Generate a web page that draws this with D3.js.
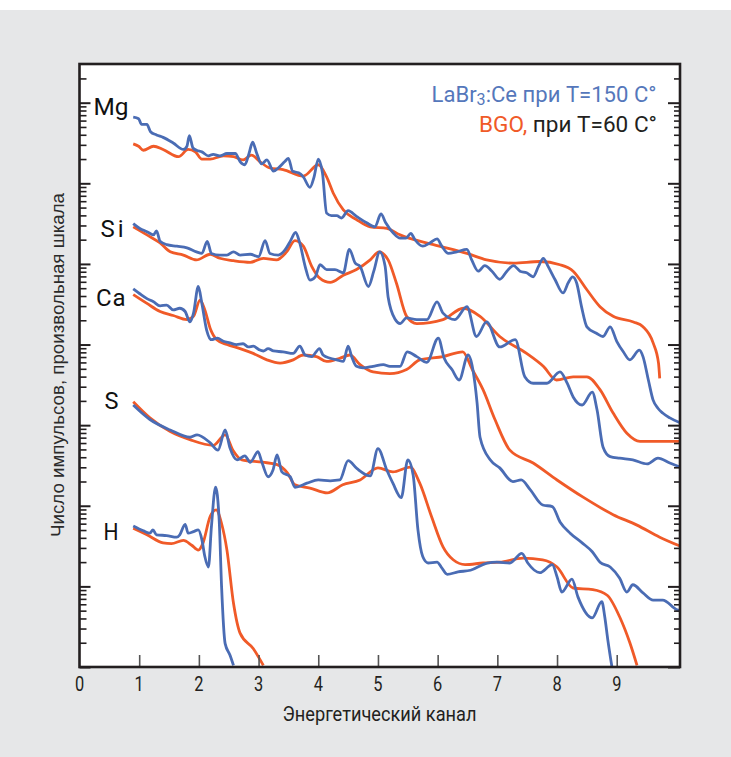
<!DOCTYPE html>
<html>
<head>
<meta charset="utf-8">
<script src="https://cdn.jsdelivr.net/npm/d3@7"></script>
<style>
  html, body { margin:0; padding:0; background:#e6e7e8; }
  svg { display:block; }
  text { font-family: Roboto, "Liberation Sans", sans-serif; }
</style>
</head>
<body>
<svg id="drawing_region"></svg>
<script>
// [channel, log10(count)]
const mgLaBr = [[0.90,6.82],[0.99,6.80],[1.04,6.73],[1.13,6.73],[1.19,6.64],[1.29,6.60],[1.40,6.57],[1.57,6.50],[1.74,6.42],[1.80,6.46],[1.84,6.59],[1.90,6.44],[1.96,6.41],[2.05,6.39],[2.16,6.34],[2.24,6.36],[2.35,6.34],[2.47,6.37],[2.61,6.37],[2.69,6.27],[2.77,6.23],[2.84,6.37],[2.90,6.51],[2.97,6.37],[3.05,6.24],[3.14,6.29],[3.25,6.15],[3.33,6.19],[3.44,6.27],[3.50,6.31],[3.57,6.15],[3.67,6.13],[3.75,6.08],[3.86,5.95],[3.93,6.08],[4.00,6.30],[4.07,6.13],[4.14,5.63],[4.22,5.60],[4.31,5.60],[4.39,5.57],[4.50,5.66],[4.64,5.59],[4.81,5.51],[4.95,5.46],[5.05,5.62],[5.13,5.51],[5.26,5.38],[5.37,5.32],[5.47,5.32],[5.55,5.38],[5.62,5.30],[5.75,5.22],[5.87,5.26],[5.99,5.31],[6.07,5.22],[6.18,5.13],[6.32,5.15],[6.49,5.18],[6.57,5.05],[6.68,4.91],[6.79,4.98],[6.91,4.91],[7.04,4.81],[7.16,4.91],[7.27,4.98],[7.38,4.91],[7.49,4.89],[7.60,4.84],[7.69,4.97],[7.77,5.07],[7.85,4.97],[7.97,4.80],[8.10,4.64],[8.19,4.77],[8.26,4.84],[8.33,4.76],[8.41,4.47],[8.50,4.22],[8.66,4.14],[8.77,4.10],[8.89,4.22],[9.00,4.04],[9.11,3.91],[9.22,3.81],[9.38,3.93],[9.44,3.85],[9.53,3.56],[9.61,3.31],[9.69,3.21],[9.77,3.15],[9.89,3.09],[10.06,3.03]];
const mgBGO = [[0.90,6.49],[0.99,6.46],[1.07,6.41],[1.24,6.46],[1.40,6.42],[1.66,6.33],[1.82,6.42],[1.94,6.39],[2.05,6.30],[2.19,6.30],[2.41,6.34],[2.58,6.33],[2.74,6.29],[2.88,6.35],[3.02,6.27],[3.19,6.19],[3.41,6.17],[3.75,6.09],[4.00,6.23],[4.14,6.08],[4.25,5.88],[4.42,5.67],[4.64,5.55],[4.87,5.46],[5.15,5.44],[5.37,5.36],[5.93,5.24],[6.49,5.13],[6.82,5.05],[7.27,5.01],[7.71,5.03],[8.05,4.99],[8.27,4.91],[8.50,4.68],[8.72,4.47],[8.94,4.35],[9.28,4.28],[9.44,4.22],[9.61,4.02],[9.70,3.77],[9.72,3.58]];

const siLaBr = [[0.90,5.50],[1.01,5.44],[1.13,5.40],[1.24,5.36],[1.29,5.41],[1.35,5.28],[1.46,5.24],[1.63,5.22],[1.80,5.20],[1.96,5.15],[2.05,5.13],[2.14,5.28],[2.21,5.13],[2.35,5.11],[2.47,5.11],[2.58,5.15],[2.69,5.11],[2.86,5.12],[3.00,5.09],[3.11,5.29],[3.19,5.13],[3.33,5.11],[3.44,5.17],[3.53,5.28],[3.62,5.39],[3.69,5.26],[3.78,4.97],[3.86,4.80],[3.95,4.84],[4.03,4.99],[4.14,4.93],[4.28,4.93],[4.42,4.89],[4.52,5.18],[4.62,5.01],[4.70,4.97],[4.84,4.72],[4.93,4.91],[5.03,5.15],[5.12,4.97],[5.17,4.59],[5.29,4.31],[5.37,4.26],[5.48,4.33],[5.65,4.31],[5.82,4.31],[5.99,4.53],[6.09,4.39],[6.29,4.31],[6.49,4.47],[6.65,4.10],[6.82,4.28],[7.04,3.97],[7.30,4.06],[7.46,3.60],[7.60,3.52],[7.83,3.52],[8.05,3.66],[8.17,3.52],[8.27,3.35],[8.42,3.25],[8.59,3.41],[8.67,3.19],[8.77,2.73],[8.89,2.61],[9.05,2.59],[9.27,2.57],[9.51,2.52],[9.69,2.59],[9.89,2.53],[10.06,2.48]];
const siBGO = [[0.90,5.46],[1.13,5.36],[1.35,5.26],[1.52,5.15],[1.74,5.11],[1.96,5.05],[2.19,5.12],[2.35,5.07],[2.58,5.04],[2.86,5.02],[3.08,5.07],[3.30,5.05],[3.47,5.15],[3.61,5.29],[3.75,5.22],[3.89,4.97],[4.03,4.82],[4.20,4.77],[4.42,4.86],[4.64,4.93],[4.87,5.05],[5.02,5.15],[5.17,5.05],[5.31,4.76],[5.48,4.35],[5.65,4.26],[6.09,4.31],[6.43,4.45],[6.71,4.35],[7.04,4.10],[7.49,3.89],[7.77,3.73],[7.99,3.56],[8.27,3.60],[8.50,3.60],[8.72,3.44],[8.94,3.15],[9.17,2.90],[9.39,2.80],[9.84,2.80],[10.06,2.80]];

const caLaBr = [[0.90,4.69],[1.01,4.63],[1.13,4.57],[1.24,4.53],[1.35,4.48],[1.46,4.49],[1.57,4.43],[1.68,4.45],[1.77,4.41],[1.85,4.28],[1.91,4.39],[1.99,4.72],[2.05,4.51],[2.13,4.18],[2.21,4.06],[2.31,4.08],[2.41,4.04],[2.52,4.02],[2.63,4.00],[2.74,4.01],[2.83,3.97],[2.91,3.98],[3.00,3.94],[3.08,3.92],[3.16,3.95],[3.25,3.92],[3.41,3.91],[3.58,3.89],[3.69,3.98],[3.78,3.87],[3.89,3.85],[4.02,3.95],[4.08,3.87],[4.20,3.83],[4.31,3.81],[4.42,3.79],[4.50,3.98],[4.56,3.85],[4.64,3.73],[4.75,3.71],[4.92,3.73],[5.09,3.75],[5.20,3.73],[5.37,3.73],[5.49,3.91],[5.65,3.85],[5.82,3.78],[6.01,4.08],[6.11,3.83],[6.24,3.69],[6.36,3.56],[6.51,3.87],[6.59,3.69],[6.66,3.28],[6.71,2.85],[6.88,2.57],[7.04,2.47],[7.26,2.30],[7.40,2.32],[7.55,2.20],[7.76,2.01],[7.92,1.99],[8.05,1.80],[8.22,1.66],[8.42,1.54],[8.59,1.43],[8.72,1.30],[8.89,1.24],[9.05,1.10],[9.17,0.93],[9.27,1.02],[9.44,0.92],[9.61,0.83],[9.77,0.83],[10.01,0.71],[10.06,0.70]];
const caBGO = [[0.90,4.62],[1.13,4.51],[1.35,4.41],[1.57,4.36],[1.80,4.31],[1.91,4.35],[2.02,4.55],[2.10,4.43],[2.19,4.20],[2.30,4.06],[2.47,4.00],[2.69,3.95],[2.91,3.89],[3.14,3.81],[3.36,3.77],[3.58,3.81],[3.75,3.87],[3.97,3.85],[4.14,3.79],[4.36,3.83],[4.53,3.87],[4.70,3.75],[4.92,3.66],[5.20,3.64],[5.48,3.69],[5.70,3.81],[6.09,3.85],[6.42,3.91],[6.58,3.69],[6.76,3.44],[6.96,3.07],[7.21,2.69],[7.60,2.53],[8.00,2.32],[8.43,2.11],[8.94,1.89],[9.34,1.76],[9.72,1.61],[10.06,1.50]];

const sLaBr = [[0.90,3.25],[1.18,3.07],[1.52,2.94],[1.85,2.85],[1.97,2.88],[2.19,2.78],[2.32,2.69],[2.44,2.94],[2.52,2.72],[2.64,2.57],[2.77,2.62],[2.86,2.54],[2.99,2.67],[3.06,2.53],[3.16,2.36],[3.24,2.44],[3.31,2.63],[3.39,2.42],[3.53,2.36],[3.61,2.23],[3.81,2.28],[4.00,2.32],[4.20,2.31],[4.36,2.32],[4.50,2.56],[4.65,2.46],[4.87,2.37],[5.00,2.71],[5.15,2.44],[5.25,2.28],[5.39,2.10],[5.50,2.57],[5.59,2.38],[5.67,1.70],[5.75,1.37],[5.84,1.29],[5.99,1.30],[6.06,1.24],[6.16,1.15],[6.34,1.18],[6.55,1.20],[6.83,1.29],[6.99,1.30],[7.21,1.29],[7.41,1.41],[7.51,1.29],[7.71,1.17],[7.92,1.27],[8.00,1.12],[8.08,0.93],[8.25,1.09],[8.35,0.87],[8.59,0.61],[8.75,0.81],[8.80,0.62],[8.85,0.34],[8.92,0.00]];
const sBGO = [[0.90,3.29],[1.18,3.09],[1.52,2.92],[1.85,2.82],[2.24,2.75],[2.44,2.88],[2.57,2.69],[2.72,2.57],[3.07,2.54],[3.31,2.51],[3.48,2.41],[3.61,2.26],[3.86,2.22],[4.15,2.16],[4.41,2.26],[4.70,2.32],[5.00,2.47],[5.25,2.42],[5.54,2.48],[5.70,2.28],[5.90,1.86],[6.09,1.49],[6.26,1.33],[6.46,1.27],[6.76,1.29],[7.04,1.30],[7.43,1.35],[7.76,1.33],[8.00,1.24],[8.27,0.98],[8.60,0.96],[8.84,0.89],[9.05,0.62],[9.22,0.30],[9.34,0.02]];

const hLaBr = [[0.90,1.75],[1.07,1.69],[1.18,1.66],[1.23,1.70],[1.29,1.64],[1.46,1.63],[1.63,1.61],[1.68,1.64],[1.77,1.77],[1.82,1.66],[1.91,1.68],[1.99,1.70],[2.05,1.58],[2.10,1.37],[2.16,1.24],[2.21,1.74],[2.28,2.23],[2.34,1.82],[2.38,1.00],[2.44,0.29],[2.52,0.15],[2.58,0.02]];
const hBGO = [[0.90,1.72],[1.13,1.64],[1.40,1.54],[1.54,1.53],[1.74,1.57],[1.88,1.51],[1.99,1.45],[2.07,1.54],[2.19,1.87],[2.29,1.95],[2.38,1.78],[2.47,1.45],[2.58,0.79],[2.69,0.42],[2.91,0.23],[3.08,0.02]];

const elements = ['Mg', 'Si', 'Ca', 'S', 'H'];
const laBrSeries = [mgLaBr, siLaBr, caLaBr, sLaBr, hLaBr];
const bgoSeries = [mgBGO, siBGO, caBGO, sBGO, hBGO];
const xTickLabels = ['0','1','2','3','4','5','6','7','8','9'];

const blue = '#4a6cb4', orange = '#f05a28', ink = '#231f20';

const config = {
  width: 731, height: 757,
  margin: {top:64, right:51, bottom:90, left:79.5}
};
const inner_width = config.width - config.margin.left - config.margin.right;
const inner_height = config.height - config.margin.top - config.margin.bottom;
const L = config.margin.left, T = config.margin.top;
const R = L + inner_width, B = T + inner_height;

const svg = d3.select('#drawing_region')
    .attr('width', config.width)
    .attr('height', config.height);

svg.append('rect').attr('width', config.width).attr('height', config.height).attr('fill', '#e6e7e8');
svg.append('rect').attr('width', config.width).attr('height', 10).attr('fill', '#ffffff');
svg.append('rect').attr('x', L).attr('y', T).attr('width', inner_width).attr('height', inner_height).attr('fill', '#ffffff');

const xscale = d3.scaleLinear().domain([0, 10.06]).range([L, R]);
const yscale = d3.scaleLog().domain([1, Math.pow(10, 7.48)]).range([B, T]);

svg.append('clipPath').attr('id', 'clip')
  .append('rect').attr('x', L).attr('y', T).attr('width', inner_width).attr('height', inner_height);

const line = d3.line()
    .x(d => xscale(d[0]))
    .y(d => yscale(Math.pow(10, d[1])))
    .curve(d3.curveMonotoneX);

const plot = svg.append('g').attr('clip-path', 'url(#clip)');
plot.selectAll('path.bgo').data(bgoSeries).enter().append('path')
    .attr('class', 'bgo')
    .attr('d', line)
    .attr('fill', 'none').attr('stroke', orange).attr('stroke-width', 2.8)
    .attr('stroke-linejoin', 'round');
plot.selectAll('path.labr').data(laBrSeries).enter().append('path')
    .attr('class', 'labr')
    .attr('d', line)
    .attr('fill', 'none').attr('stroke', blue).attr('stroke-width', 2.8)
    .attr('stroke-linejoin', 'round');

// log ticks
const decades = d3.range(0, 8).map(k => Math.pow(10, k));
const minors = [];
decades.forEach(dv => {
  for (let m = 2; m <= 9; m++) {
    if (m * dv < yscale.domain()[1] * 0.98) minors.push(m * dv);
  }
});

function tickAxis(axis, tx, values, size, width, color) {
  const g = svg.append('g')
      .attr('transform', tx)
      .call(axis.tickValues(values).tickSize(size).tickFormat(''));
  g.select('.domain').remove();
  g.selectAll('line').attr('stroke', color).attr('stroke-width', width);
  return g;
}
tickAxis(d3.axisRight(yscale), `translate(${L},0)`, decades, 11, 2, ink);
tickAxis(d3.axisRight(yscale), `translate(${L},0)`, minors, 7, 1.6, ink);
tickAxis(d3.axisLeft(yscale), `translate(${R},0)`, decades, 12, 2, ink);
tickAxis(d3.axisLeft(yscale), `translate(${R},0)`, minors, 6, 1.6, ink);
tickAxis(d3.axisTop(xscale), `translate(0,${B})`, d3.range(1, 10), 12, 1.6, '#555');

// frame
svg.append('rect')
    .attr('x', L).attr('y', T).attr('width', inner_width).attr('height', inner_height)
    .attr('fill', 'none').attr('stroke', ink).attr('stroke-width', 2.6);

// x tick labels
svg.selectAll('text.xtick').data(xTickLabels).enter().append('text')
    .attr('class', 'xtick')
    .attr('transform', (d, i) => `translate(${xscale(i)},691) scale(0.82,1)`)
    .attr('text-anchor', 'middle')
    .attr('font-size', 20)
    .attr('fill', ink)
    .text(d => d);

// axis titles
svg.append('text')
    .attr('x', 282.5).attr('y', 721)
    .attr('font-size', 21)
    .attr('fill', ink)
    .attr('textLength', 194).attr('lengthAdjust', 'spacingAndGlyphs')
    .text('Энергетический канал');

svg.append('text')
    .attr('transform', 'translate(63.5,365) rotate(-90)')
    .attr('text-anchor', 'middle')
    .attr('font-size', 19)
    .attr('fill', '#2b2b2b')
    .style('font-family', '"Liberation Sans", Arial, sans-serif')
    .attr('textLength', 344).attr('lengthAdjust', 'spacingAndGlyphs')
    .text('Число импульсов, произвольная шкала');

// element labels
const elementPos = [
  {x: 93.5, y: 115, w: 35, adj: 'spacingAndGlyphs'},
  {x: 100.5, y: 236.5, w: 23, adj: 'spacing'},
  {x: 96, y: 306, w: 29.5, adj: 'spacing'},
  {x: 104.5, y: 409, w: 14, adj: 'spacingAndGlyphs'},
  {x: 103.5, y: 540, w: 15, adj: 'spacingAndGlyphs'}
];
svg.selectAll('text.elem').data(elements).enter().append('text')
    .attr('class', 'elem')
    .attr('x', (d, i) => elementPos[i].x)
    .attr('y', (d, i) => elementPos[i].y)
    .attr('font-size', 24)
    .attr('fill', '#111')
    .attr('textLength', (d, i) => elementPos[i].w)
    .attr('lengthAdjust', (d, i) => elementPos[i].adj)
    .text(d => d);

// legend
const leg1 = svg.append('text')
    .attr('x', 431.5).attr('y', 101.5)
    .attr('font-size', 22)
    .attr('fill', '#5577bb')
    .attr('textLength', 225).attr('lengthAdjust', 'spacingAndGlyphs');
leg1.append('tspan').text('LaBr');
leg1.append('tspan').attr('dy', 3).attr('font-size', 16).text('3');
leg1.append('tspan').attr('dy', -3).text(':Ce при T=150 C°');

const leg2 = svg.append('text')
    .attr('x', 479).attr('y', 131.5)
    .attr('font-size', 22)
    .attr('textLength', 178).attr('lengthAdjust', 'spacingAndGlyphs');
leg2.append('tspan').attr('fill', orange).text('BGO,');
leg2.append('tspan').attr('fill', ink).text(' при T=60 C°');
</script>
</body>
</html>
